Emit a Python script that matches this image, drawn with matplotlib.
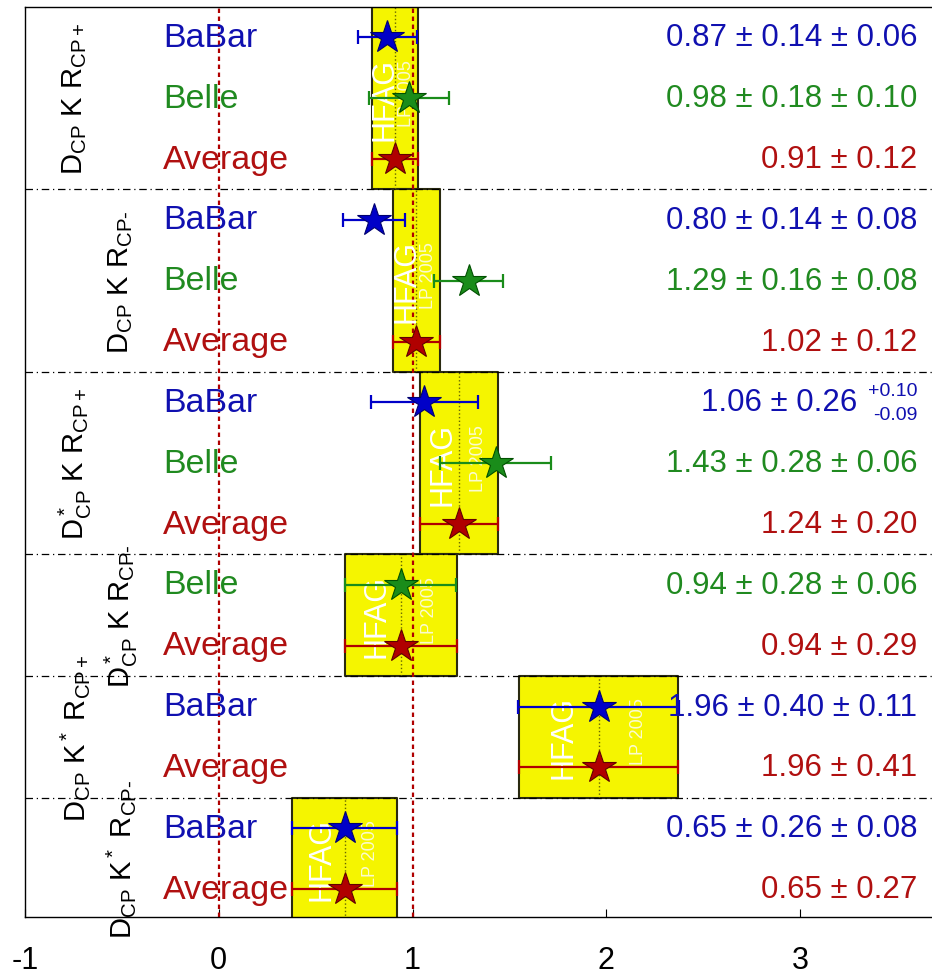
import matplotlib
matplotlib.use("Agg")
import matplotlib.pyplot as plt
import numpy as np

plt.rcParams['font.family'] = ['Liberation Sans', 'DejaVu Sans']
plt.rcParams['mathtext.fontset'] = 'custom'
plt.rcParams['mathtext.rm'] = 'Liberation Sans'
plt.rcParams['mathtext.it'] = 'Liberation Sans:italic'
plt.rcParams['mathtext.bf'] = 'Liberation Sans:bold'

# ---------------- data ----------------
group_labels = [r'$\mathregular{D_{CP}\ K\ R_{CP+}}$',
                r'$\mathregular{D_{CP}\ K\ R_{CP\text{-}}}$',
                r'$\mathregular{D^*_{CP}\ K\ R_{CP+}}$',
                r'$\mathregular{D^*_{CP}\ K\ R_{CP\text{-}}}$',
                r'$\mathregular{D_{CP}\ K^*\ R_{CP+}}$',
                r'$\mathregular{D_{CP}\ K^*\ R_{CP\text{-}}}$']
group_sizes = [3, 3, 3, 2, 2, 2]

row_exp = ['BaBar', 'Belle', 'Average',
           'BaBar', 'Belle', 'Average',
           'BaBar', 'Belle', 'Average',
           'Belle', 'Average',
           'BaBar', 'Average',
           'BaBar', 'Average']
row_val = [0.87, 0.98, 0.91,
           0.80, 1.29, 1.02,
           1.06, 1.43, 1.24,
           0.94, 0.94,
           1.96, 1.96,
           0.65, 0.65]
row_stat = [0.14, 0.18, 0.12,
            0.14, 0.16, 0.12,
            0.26, 0.28, 0.20,
            0.28, 0.29,
            0.40, 0.41,
            0.26, 0.27]
row_syst_up = [0.06, 0.10, 0.0,
               0.08, 0.08, 0.0,
               0.10, 0.06, 0.0,
               0.06, 0.0,
               0.11, 0.0,
               0.08, 0.0]
row_syst_dn = [0.06, 0.10, 0.0,
               0.08, 0.08, 0.0,
               0.09, 0.06, 0.0,
               0.06, 0.0,
               0.11, 0.0,
               0.08, 0.0]
row_text = ['0.87 ± 0.14 ± 0.06', '0.98 ± 0.18 ± 0.10', '0.91 ± 0.12',
            '0.80 ± 0.14 ± 0.08', '1.29 ± 0.16 ± 0.08', '1.02 ± 0.12',
            '1.06 ± 0.26', '1.43 ± 0.28 ± 0.06', '1.24 ± 0.20',
            '0.94 ± 0.28 ± 0.06', '0.94 ± 0.29',
            '1.96 ± 0.40 ± 0.11', '1.96 ± 0.41',
            '0.65 ± 0.26 ± 0.08', '0.65 ± 0.27']
asym_row = 6
asym_up_text = '+0.10'
asym_dn_text = '-0.09'

x_ticks = [-1, 0, 1, 2, 3]
ref_lines = [0, 1]

# ---------------- style ----------------
colors = {'BaBar': '#0000c8', 'Belle': '#1a8c1a', 'Average': '#b00000'}
edge = {'BaBar': '#000070', 'Belle': '#005000', 'Average': '#600000'}
text_col = {'BaBar': '#1010b0', 'Belle': '#208a20', 'Average': '#b01010'}

fig = plt.figure(figsize=(9.32, 9.78), dpi=100)
ax = fig.add_axes([25/932, 1-918/978, 1-25/932, (918-8)/978])

n = len(row_exp)
ys = [n - 1 - i for i in range(n)]
ax.set_xlim(-1, 3.68)
ax.set_ylim(-0.46, n - 0.5)

# groups: boxes, separators, labels
start = 0
for g, size in enumerate(group_sizes):
    idx = list(range(start, start + size))
    avg_i = idx[-1]
    top = ys[idx[0]] + 0.5
    bot = ys[idx[-1]] - 0.5
    c = row_val[avg_i]
    w = row_stat[avg_i]
    ax.fill_between([c - w, c + w], bot, top, facecolor='#f5f500',
                    edgecolor='#2a2a10', linewidth=1.5, zorder=1)
    ax.plot([c, c], [bot, top], color='#666600', linestyle=':', linewidth=1.0, zorder=2)
    ymid = (top + bot) / 2
    ax.text(c - 0.22 * 2 * w, ymid, 'HFAG', rotation=90, color='white',
            fontsize=22, ha='center', va='center', zorder=3)
    ax.text(c + 0.25 * 2 * w, ymid + 0.1, 'LP 2005', rotation=90, color='#fbfbd0',
            fontsize=13, ha='center', va='center', zorder=3)
    if g > 0:
        ax.axhline(top, color='black', linestyle=(0, (6, 3, 1, 3)), linewidth=0.9, zorder=4)
    lx = -0.742 if g % 2 == 0 else -0.505
    ax.text(lx, ymid, group_labels[g], rotation=90, fontsize=21,
            ha='center', va='center', color='black', zorder=5)
    start += size

for xv in ref_lines:
    ax.axvline(xv, color='#b00000', linestyle=(0, (2, 1.6)), linewidth=1.6, zorder=2.5)

# measurements
for i in range(n):
    exp = row_exp[i]
    y = ys[i]
    v = row_val[i]
    eu = np.hypot(row_stat[i], row_syst_up[i])
    ed = np.hypot(row_stat[i], row_syst_dn[i])
    ax.errorbar([v], [y], xerr=[[ed], [eu]], fmt='none', ecolor=colors[exp],
                elinewidth=1.6, capsize=5, capthick=1.6, zorder=6)
    ax.plot([v], [y], marker='*', markersize=25, color=colors[exp],
            markeredgecolor=edge[exp], markeredgewidth=0.8, zorder=7)
    ax.text(-0.289, y, exp, color=text_col[exp], fontsize=24.5,
            ha='left', va='center', zorder=8)
    if i == asym_row:
        ax.text(3.295, y, row_text[i], color=text_col[exp], fontsize=22.5,
                ha='right', va='center', zorder=8)
        ax.text(3.603, y + 0.2, asym_up_text, color=text_col[exp], fontsize=14,
                ha='right', va='center', zorder=8)
        ax.text(3.603, y - 0.2, asym_dn_text, color=text_col[exp], fontsize=14,
                ha='right', va='center', zorder=8)
    else:
        ax.text(3.603, y, row_text[i], color=text_col[exp], fontsize=22.5,
                ha='right', va='center', zorder=8)

ax.set_xticks(x_ticks)
ax.set_xticklabels([str(t) for t in x_ticks], fontsize=22)
ax.tick_params(axis='x', direction='in', length=6, pad=20)
ax.set_yticks([])
ax.spines['right'].set_visible(False)
for s in ['left', 'bottom', 'top']:
    ax.spines[s].set_linewidth(1.0)

fig.savefig('out.png', dpi=100)
